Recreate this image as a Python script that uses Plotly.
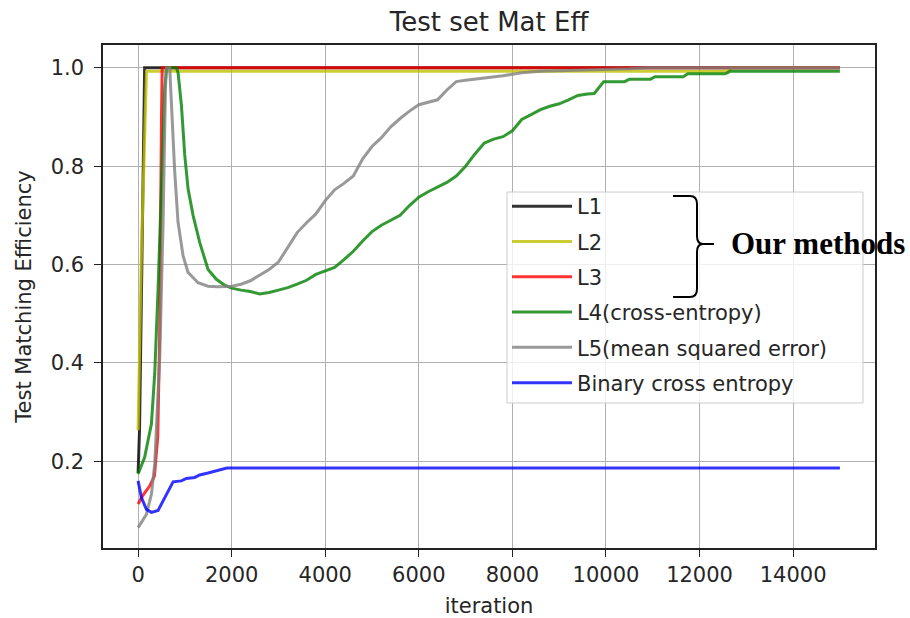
import plotly.graph_objects as go

# ---------------- data ----------------
l1_x = [0, 30, 140, 15000]
l1_y = [0.176, 0.26, 1.0, 1.0]

l2_x = [0, 70, 180, 12600, 12700, 15000]
l2_y = [0.263, 0.62, 0.993, 0.993, 1.0, 1.0]

l3_x = [0, 100, 250, 350, 420, 460, 500, 515, 15000]
l3_y = [0.113, 0.13, 0.15, 0.17, 0.25, 0.45, 0.9, 1.0, 1.0]

l4_x = [0, 140, 285, 356, 427, 498, 570, 610, 820, 855, 925, 997, 1068, 1175, 1317,
        1495, 1673, 1850, 2000, 2200, 2400, 2600, 2800, 3000, 3200, 3400, 3600, 3800,
        4000, 4200, 4400, 4600, 4800, 5000, 5200, 5400, 5600, 5800, 6000, 6200, 6400,
        6600, 6800, 7000, 7200, 7400, 7600, 7800, 8000, 8200, 8400, 8600, 8800, 9000,
        9200, 9400, 9600, 9750, 9950, 10400, 10500, 10950, 11050, 11650, 11750, 12550,
        12650, 15000]
l4_y = [0.174, 0.208, 0.276, 0.379, 0.55, 0.754, 0.959, 1.0, 1.0, 0.99, 0.925, 0.823,
        0.754, 0.70, 0.645, 0.59, 0.57, 0.558, 0.552, 0.548, 0.545, 0.54, 0.543, 0.548,
        0.553, 0.56, 0.568, 0.58, 0.587, 0.594, 0.61, 0.627, 0.648, 0.667, 0.68, 0.69,
        0.70, 0.72, 0.737, 0.748, 0.757, 0.767, 0.78, 0.80, 0.825, 0.847, 0.855, 0.86,
        0.872, 0.895, 0.905, 0.915, 0.922, 0.927, 0.935, 0.944, 0.947, 0.948, 0.972,
        0.972, 0.977, 0.977, 0.982, 0.982, 0.988, 0.988, 0.993, 0.993]

l5_x = [0, 178, 285, 356, 463, 534, 584, 605, 676, 712, 783, 854, 961, 1068, 1282, 1495,
        1700, 2000, 2200, 2400, 2600, 2800, 3000, 3200, 3400, 3600, 3800, 4000, 4200,
        4400, 4600, 4800, 5000, 5200, 5400, 5600, 5800, 6000, 6200, 6400, 6600, 6800,
        7000, 7400, 7800, 8200, 8600, 9000, 9500, 10000, 10500, 10900, 15000]
l5_y = [0.065, 0.092, 0.133, 0.195, 0.413, 0.686, 0.959, 1.0, 1.0, 0.925, 0.788, 0.686,
        0.618, 0.584, 0.563, 0.556, 0.555, 0.556, 0.56, 0.567, 0.578, 0.59, 0.605, 0.635,
        0.665, 0.685, 0.703, 0.73, 0.752, 0.765, 0.78, 0.815, 0.84, 0.858, 0.88, 0.897,
        0.912, 0.925, 0.93, 0.935, 0.955, 0.972, 0.975, 0.979, 0.984, 0.99, 0.993, 0.994,
        0.995, 0.996, 0.998, 1.0, 1.0]

bce_x = [0, 71, 178, 285, 427, 534, 640, 748, 925, 1032, 1210, 1317, 1495, 1673, 1895, 15000]
bce_y = [0.16, 0.126, 0.102, 0.096, 0.10, 0.12, 0.14, 0.158, 0.16, 0.165, 0.167, 0.172,
         0.176, 0.181, 0.186, 0.186]

series_names = ["L1", "L2", "L3", "L4(cross-entropy)", "L5(mean squared error)",
                "Binary cross entropy"]
x_ticks = [0, 2000, 4000, 6000, 8000, 10000, 12000, 14000]
y_ticks = [0.2, 0.4, 0.6, 0.8, 1.0]

# ---------------- styling ----------------
colors = ["rgba(0,0,0,0.8)", "rgba(191,191,0,0.8)", "rgba(255,0,0,0.8)",
          "rgba(0,128,0,0.8)", "rgba(128,128,128,0.8)", "rgba(0,0,255,0.8)"]
W, H = 910, 618
ML, MR, MT, MB = 103, 35, 45, 70
PW, PH = W - ML - MR, H - MT - MB
FONT = "DejaVu Sans"
TXT = "#262626"

fig = go.Figure()
data = [(l1_x, l1_y), (l2_x, l2_y), (l3_x, l3_y), (l4_x, l4_y), (l5_x, l5_y), (bce_x, bce_y)]
for (xs, ys), name, c in zip(data, series_names, colors):
    fig.add_trace(go.Scatter(x=xs, y=ys, mode="lines", name=name, legendgroup=name,
                             line=dict(color=c, width=3)))


def px(x, y):
    return (x - ML) / PW, (H - MB - y) / PH


def brace_path():
    cmds = [("M", [(673, 196)]), ("L", [(690, 196)]), ("Q", [(697, 196), (697, 204)]),
            ("L", [(697, 236)]), ("Q", [(697, 244), (703, 244)]), ("L", [(714, 244)]),
            ("M", [(703, 244)]), ("Q", [(697, 244), (697, 252)]), ("L", [(697, 289)]),
            ("Q", [(697, 297), (690, 297)]), ("L", [(673, 297)])]
    out = []
    for c, pts in cmds:
        s = " ".join("%.5f,%.5f" % px(a, b) for a, b in pts)
        out.append(c + " " + s)
    return " ".join(out)


# legend frame (drawn as a shape so the brace can sit on top of it)
fx0, fy0 = px(507, 403)
fx1, fy1 = px(863, 192)
fig.add_shape(type="rect", xref="paper", yref="paper", x0=fx0, y0=fy0, x1=fx1, y1=fy1,
              layer="above", fillcolor="rgba(255,255,255,0.8)",
              line=dict(color="#cccccc", width=1))
fig.add_shape(type="path", xref="paper", yref="paper", path=brace_path(),
              layer="above", line=dict(color="black", width=2))
bx, by = px(818, 243)
fig.add_annotation(x=bx, y=by, xref="paper", yref="paper", text="<b>Our methods</b>",
                   showarrow=False, xanchor="center", yanchor="middle",
                   font=dict(family="Liberation Serif, Times New Roman, serif", size=31,
                             color="black"))

axis_common = dict(showgrid=True, gridcolor="#b0b0b0", gridwidth=1.2, zeroline=False,
                   showline=True, linecolor="#222", linewidth=1.5, mirror=True,
                   ticks="outside", ticklen=7, tickwidth=1.3, tickcolor="#222",
                   automargin=False,
                   tickfont=dict(family=FONT, size=21, color=TXT))

fig.update_layout(
    width=W, height=H,
    margin=dict(l=ML, r=MR, t=MT, b=MB),
    paper_bgcolor="white", plot_bgcolor="white",
    title=dict(text="Test set Mat Eff", x=0.5, xref="paper", xanchor="center",
               y=1 - 22 / H, yref="container", yanchor="middle",
               font=dict(family=FONT, size=26, color=TXT)),
    xaxis=dict(range=[-750, 15750], tickvals=x_ticks, ticktext=[str(v) for v in x_ticks],
               title=dict(text="iteration", standoff=15,
                          font=dict(family=FONT, size=21, color=TXT)),
               **axis_common),
    yaxis=dict(range=[0.0235, 1.0465], tickvals=y_ticks,
               ticktext=["%.1f" % v for v in y_ticks], ticklabelstandoff=6,
               title=dict(text="Test Matching Efficiency", standoff=13,
                          font=dict(family=FONT, size=21, color=TXT)),
               **axis_common),
    legend=dict(x=px(507, 0)[0], y=px(0, 186)[1], xanchor="left", yanchor="top",
                bgcolor="rgba(0,0,0,0)", borderwidth=0,
                font=dict(family=FONT, size=21, color=TXT), itemwidth=60,
                tracegroupgap=5),
    showlegend=True,
)

fig.write_html("out.html")
